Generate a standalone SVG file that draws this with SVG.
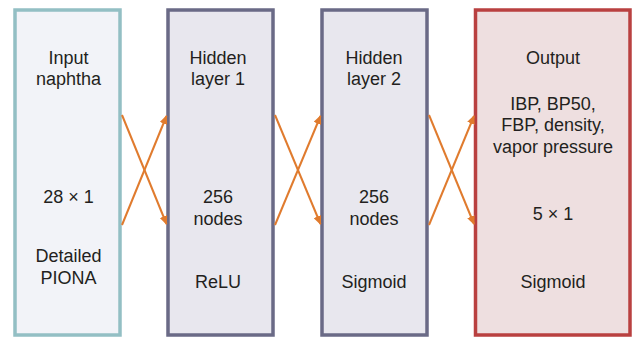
<svg xmlns="http://www.w3.org/2000/svg" width="632" height="337" viewBox="0 0 632 337">
  <style>
    .t { font-family: "Liberation Sans", Arial, sans-serif; font-size: 18px; fill: #231f20; text-anchor: middle; }
    .box { stroke-width: 3.5; }
    .conn { stroke: #e07b2e; stroke-width: 2; fill: none; marker-end: url(#ah); }
  </style>
  <defs>
    <marker id="ah" markerUnits="userSpaceOnUse" markerWidth="9" markerHeight="8" viewBox="0 0 9 8" refX="8" refY="4" orient="auto">
      <path d="M0,0 L9,4 L0,8 Z" fill="#e07b2e"/>
    </marker>
  </defs>
  <rect width="632" height="337" fill="#ffffff"/>

  <g id="input">
    <rect class="box" x="15" y="10" width="105" height="325" fill="#f2f3f8" stroke="#93bfc4"/>
    <text class="t" x="68.5" y="64">Input</text>
    <text class="t" x="68.5" y="85">naphtha</text>
    <text class="t" x="68.5" y="203">28 × 1</text>
    <text class="t" x="68.5" y="262">Detailed</text>
    <text class="t" x="68.5" y="284">PIONA</text>
  </g>

  <g id="hidden1">
    <rect class="box" x="168" y="10" width="105" height="325" fill="#e8e7ee" stroke="#6a6a86"/>
    <text class="t" x="218" y="64">Hidden</text>
    <text class="t" x="218" y="85">layer 1</text>
    <text class="t" x="218" y="203">256</text>
    <text class="t" x="218" y="225">nodes</text>
    <text class="t" x="218" y="288">ReLU</text>
  </g>

  <g id="hidden2">
    <rect class="box" x="322" y="10" width="105" height="325" fill="#e8e7ee" stroke="#6a6a86"/>
    <text class="t" x="374" y="64">Hidden</text>
    <text class="t" x="374" y="85">layer 2</text>
    <text class="t" x="374" y="203">256</text>
    <text class="t" x="374" y="225">nodes</text>
    <text class="t" x="374" y="288">Sigmoid</text>
  </g>

  <g id="output">
    <rect class="box" x="475.5" y="10" width="154.5" height="325" fill="#eedfe0" stroke="#b94040"/>
    <text class="t" x="553" y="64">Output</text>
    <text class="t" x="553" y="110">IBP, BP50,</text>
    <text class="t" x="553" y="131">FBP, density,</text>
    <text class="t" x="553" y="153">vapor pressure</text>
    <text class="t" x="553" y="220">5 × 1</text>
    <text class="t" x="553" y="288">Sigmoid</text>
  </g>

  <g id="connectors">
    <line class="conn" x1="122" y1="115" x2="166.5" y2="224"/>
    <line class="conn" x1="122" y1="225" x2="166.5" y2="116"/>
    <line class="conn" x1="275" y1="115" x2="320.5" y2="224"/>
    <line class="conn" x1="275" y1="225" x2="320.5" y2="116"/>
    <line class="conn" x1="429" y1="115" x2="474" y2="224"/>
    <line class="conn" x1="429" y1="225" x2="474" y2="116"/>
  </g>
</svg>
